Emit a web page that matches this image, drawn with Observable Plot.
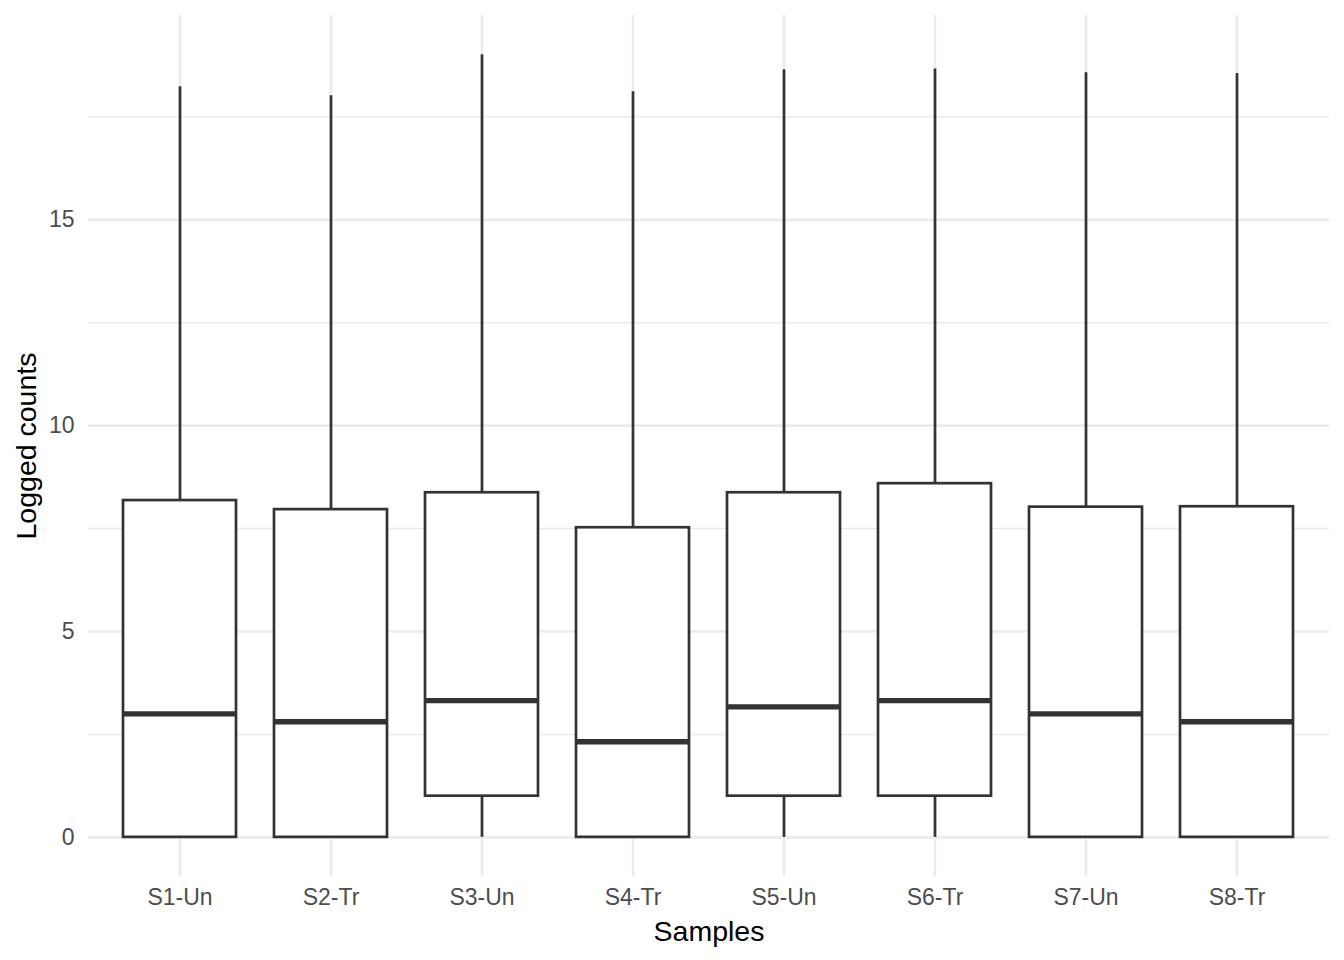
<!DOCTYPE html>
<html>
<head>
<meta charset="utf-8">
<script src="https://cdn.jsdelivr.net/npm/d3@7"></script>
<script src="https://cdn.jsdelivr.net/npm/@observablehq/plot@0.6"></script>
<style>
  html, body { margin: 0; padding: 0; background: #ffffff; }
  #chart svg { display: block; }
</style>
</head>
<body>
<div id="chart"></div>
<script>
// Data
const samples = ["S1-Un", "S2-Tr", "S3-Un", "S4-Tr", "S5-Un", "S6-Tr", "S7-Un", "S8-Tr"];
const lowerWhisker = [0, 0, 0, 0, 0, 0, 0, 0];
const q1 = [0, 0, 1, 0, 1, 1, 0, 0];
const medians = [3.0, 2.807, 3.322, 2.322, 3.17, 3.322, 3.0, 2.807];
const q3 = [8.18, 7.96, 8.37, 7.52, 8.37, 8.59, 8.02, 8.03];
const upperWhisker = [18.23, 18.01, 19.01, 18.11, 18.64, 18.66, 18.57, 18.55];
const yMajorTicks = [0, 5, 10, 15];
const yMinorTicks = [2.5, 7.5, 12.5, 17.5];
const xTitle = "Samples";
const yTitle = "Logged counts";

const rows = samples.map((s, i) => ({
  sample: s, lo: lowerWhisker[i], q1: q1[i], med: medians[i], q3: q3[i], hi: upperWhisker[i]
}));

const yMin = d3.min(lowerWhisker), yMax = d3.max(upperWhisker);
const pad = (yMax - yMin) * 0.05;

const font = "'Liberation Sans', Arial, Helvetica, sans-serif";
const boxColor = "#333333";
const gridColor = "#EBEBEB";

const chart = Plot.plot({
  width: 1344,
  height: 960,
  marginTop: 15,
  marginBottom: 84,
  marginLeft: 88,
  marginRight: 15,
  style: { fontFamily: font, background: "#ffffff" },
  x: { type: "band", domain: samples, paddingInner: 0.25, paddingOuter: 0.225, label: null },
  y: { domain: [yMin - pad, yMax + pad], label: null },
  marks: [
    // grid
    Plot.ruleY(yMinorTicks, { y: d => d, stroke: gridColor, strokeWidth: 1.4 }),
    Plot.ruleY(yMajorTicks, { y: d => d, stroke: gridColor, strokeWidth: 2.6 }),
    Plot.ruleX(samples, { x: d => d, stroke: gridColor, strokeWidth: 2.6 }),
    // axes
    Plot.axisY(yMajorTicks, {
      anchor: "left", tickSize: 0, tickPadding: 14, fontSize: 23, fill: "#4D4D4D", label: null
    }),
    Plot.axisX({
      anchor: "bottom", tickSize: 0, tickPadding: 12, fontSize: 23, fill: "#4D4D4D", label: null
    }),
    // whiskers
    Plot.ruleX(rows, { x: "sample", y1: "lo", y2: "q1", stroke: boxColor, strokeWidth: 2.7 }),
    Plot.ruleX(rows, { x: "sample", y1: "q3", y2: "hi", stroke: boxColor, strokeWidth: 2.7 }),
    // boxes
    Plot.barY(rows, { x: "sample", y1: "q1", y2: "q3", fill: "#ffffff", stroke: boxColor, strokeWidth: 2.7 }),
    // medians
    Plot.tickY(rows, { x: "sample", y: "med", stroke: boxColor, strokeWidth: 5.4 }),
    // axis titles
    Plot.text([xTitle], {
      text: d => d, frameAnchor: "bottom", textAnchor: "middle", lineAnchor: "middle",
      dy: 55, fontSize: 28.5, fill: "#000000"
    }),
    Plot.text([yTitle], {
      text: d => d, frameAnchor: "left", textAnchor: "middle", lineAnchor: "middle",
      dx: -62, rotate: -90, fontSize: 28.5, fill: "#000000"
    })
  ]
});

document.getElementById("chart").appendChild(chart);
</script>
</body>
</html>
